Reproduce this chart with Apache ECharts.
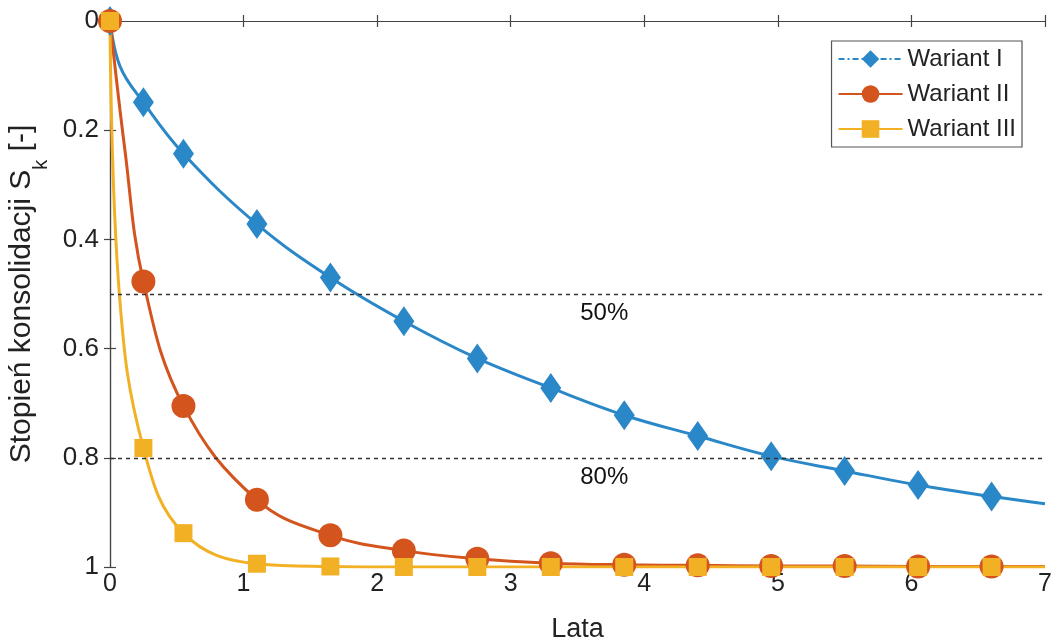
<!DOCTYPE html>
<html>
<head>
<meta charset="utf-8">
<script src="https://cdn.jsdelivr.net/npm/echarts@6/dist/echarts.min.js"></script>
<style>html,body{margin:0;padding:0;background:#fff;}#c{width:1057px;height:642px;}</style>
</head>
<body>
<div id="c"></div>
<script>
// ---- data ----
const seriesNames = ['Wariant I', 'Wariant II', 'Wariant III'];
const markerYears = [0, 0.25, 0.55, 1.1, 1.65, 2.2, 2.75, 3.3, 3.85, 4.4, 4.95, 5.5, 6.05, 6.6];
const wariantI   = [0, 0.149, 0.243, 0.372, 0.470, 0.550, 0.618, 0.672, 0.722, 0.760, 0.797, 0.824, 0.850, 0.871];
const wariantII  = [0, 0.477, 0.705, 0.877, 0.942, 0.970, 0.985, 0.993, 0.996, 0.997, 0.998, 0.998, 0.999, 0.999];
const wariantIII = [0, 0.782, 0.938, 0.994, 0.999, 1.0, 1.0, 1.0, 1.0, 1.0, 1.0, 1.0, 1.0, 1.0];
// extra curve points (no marker)
const curveI   = [[0.075, 0.083], [7, 0.884]];
const curveII  = [[0.11, 0.233], [7, 0.999]];
const curveIII = [[0.07, 0.5], [7, 1.0]];
const refLevels = [0.5, 0.8];
const refTexts = ['50%', '80%'];
const refTextAt = [[3.7, 0.535], [3.7, 0.835]];
const xTicks = [0, 1, 2, 3, 4, 5, 6, 7];
const yTicks = [0, 0.2, 0.4, 0.6, 0.8, 1];

function build(vals, extra) {
  const pts = markerYears.map((x, i) => ({ value: [x, vals[i]] }));
  extra.forEach(p => pts.push({ value: p, symbol: 'none' }));
  pts.sort((a, b) => a.value[0] - b.value[0]);
  return pts;
}

const colors = ['#2B88C8', '#D4541E', '#F2B124'];
const font = 'Liberation Sans, Arial, sans-serif';
const chart = echarts.init(document.getElementById('c'), null, { renderer: 'canvas' });

const axisLineStyle = { color: '#444', width: 1.2 };
chart.setOption({
  animation: false,
  backgroundColor: '#fff',
  textStyle: { fontFamily: font },
  grid: { left: 110, right: 12, top: 21, bottom: 75, outerBoundsMode: 'none', containLabel: false },
  legend: {
    right: 35, top: 41, orient: 'vertical',
    itemWidth: 64, itemHeight: 22, itemGap: 11,
    padding: [6, 6, 6, 6],
    borderColor: '#555', borderWidth: 1.2, backgroundColor: '#fff',
    textStyle: { fontSize: 24, color: '#222', fontFamily: font },
    data: [
      { name: seriesNames[0], lineStyle: { type: [6, 3, 2, 3] } },
      { name: seriesNames[1] },
      { name: seriesNames[2] }
    ]
  },
  xAxis: [{
    type: 'value', min: 0, max: 7, interval: 1,
    name: 'Lata', nameLocation: 'middle', nameGap: 49,
    nameTextStyle: { fontSize: 27, color: '#222', fontFamily: font },
    axisLine: { show: true, lineStyle: axisLineStyle },
    axisTick: { show: true, inside: true, length: 6, lineStyle: axisLineStyle },
    axisLabel: { fontSize: 25, color: '#222', margin: 5, fontFamily: font,
      formatter: v => xTicks.includes(v) ? String(v) : '' },
    splitLine: { show: false }
  }, {
    type: 'value', min: 0, max: 7, interval: 1, position: 'top',
    axisLine: { show: true, lineStyle: axisLineStyle },
    axisTick: { show: true, inside: true, length: 6, lineStyle: axisLineStyle },
    axisLabel: { show: false }, splitLine: { show: false }
  }],
  yAxis: [{
    type: 'value', min: 0, max: 1, interval: 0.2, inverse: true,
    name: 'Stopień konsolidacji S{sub|k} [-]', nameLocation: 'middle', nameGap: 68,
    nameTextStyle: { fontSize: 30, color: '#222', fontFamily: font,
      rich: { sub: { fontSize: 20, verticalAlign: 'bottom', padding: [0, 0, -15, 0], color: '#222', fontFamily: font } } },
    axisLine: { show: true, lineStyle: axisLineStyle },
    axisTick: { show: true, inside: true, length: 6, lineStyle: axisLineStyle },
    axisLabel: { fontSize: 26, color: '#222', margin: 11, fontFamily: font,
      formatter: v => { const t = yTicks.find(y => Math.abs(y - v) < 1e-9); return t === undefined ? '' : String(t); } },
    splitLine: { show: false }
  }, {
    type: 'value', min: 0, max: 1, interval: 0.2, inverse: true, position: 'right',
    axisLine: { show: true, lineStyle: axisLineStyle },
    axisTick: { show: true, inside: true, length: 6, lineStyle: axisLineStyle },
    axisLabel: { show: false }, splitLine: { show: false }
  }],
  series: [
    {
      name: '__ref', type: 'line', data: [], silent: true,
      markLine: {
        silent: true, symbol: 'none', label: { show: false },
        lineStyle: { color: '#333', width: 1.3, type: [4, 4], opacity: 1 },
        data: refLevels.map(v => ({ yAxis: v }))
      }
    },
    {
      name: '__reftext', type: 'scatter', symbolSize: 1, silent: true,
      itemStyle: { opacity: 0 },
      data: refTextAt.map((p, i) => ({ value: p, name: refTexts[i] })),
      label: { show: true, position: 'inside', formatter: p => p.name, fontSize: 24, color: '#111', opacity: 1, fontFamily: font }
    },
    {
      name: seriesNames[0], type: 'line', smooth: 0.4,
      data: build(wariantI, curveI), color: colors[0],
      symbol: 'diamond', symbolSize: [21, 30], showAllSymbol: true,
      lineStyle: { width: 3, color: colors[0] },
      itemStyle: { color: colors[0] }
    },
    {
      name: seriesNames[1], type: 'line', smooth: 0.4,
      data: build(wariantII, curveII), color: colors[1],
      symbol: 'circle', symbolSize: 24, showAllSymbol: true,
      lineStyle: { width: 3, color: colors[1] },
      itemStyle: { color: colors[1] }
    },
    {
      name: seriesNames[2], type: 'line', smooth: 0.4,
      data: build(wariantIII, curveIII), color: colors[2],
      symbol: 'rect', symbolSize: 18, showAllSymbol: true,
      lineStyle: { width: 3, color: colors[2] },
      itemStyle: { color: colors[2] }
    }
  ]
});
</script>
</body>
</html>
